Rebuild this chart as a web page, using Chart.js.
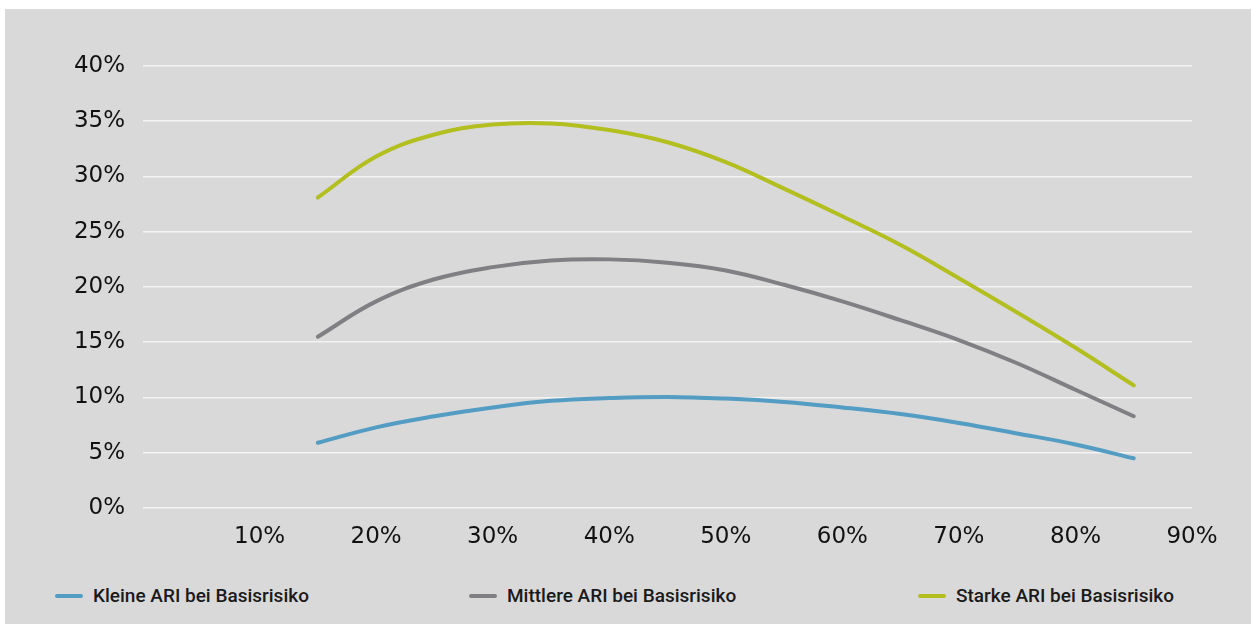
<!DOCTYPE html>
<html lang="de">
<head>
<meta charset="utf-8">
<title>ARI bei Basisrisiko</title>
<script src="https://cdn.jsdelivr.net/npm/chart.js@4/dist/chart.umd.min.js"></script>
<style>
  html, body { margin: 0; padding: 0; background: #ffffff; }
  body { width: 1252px; height: 624px; position: relative; overflow: hidden; }
  #panel { position: absolute; left: 5px; top: 9px; width: 1246px; height: 615px; background: #d9d9d9; }
  #plot { position: absolute; left: 0; top: 0; width: 1246px; height: 560px; }
  .legend-item { position: absolute; top: 575px; height: 24px; line-height: 24px;
    font-family: Roboto, "Liberation Sans", sans-serif; font-weight: 500; font-size: 19px;
    color: #1a1a1a; white-space: nowrap; }
  .legend-item .swatch { position: absolute; left: 0; top: 10px; width: 28px; height: 4px; border-radius: 2px; }
  .legend-item .label { position: absolute; left: 38px; top: 0; }
</style>
</head>
<body>
<div id="panel">
  <div id="plot"><canvas id="chart"></canvas></div>
  <div id="legend"></div>
</div>
<script>
// Anteil (x, in %) an dem die Kurven ausgewertet sind
const shares = [15, 20, 25, 30, 35, 40, 45, 50, 55, 60, 65, 70, 75, 80, 85];

// Kurvenwerte in %
const kleineARI   = [5.9, 7.3, 8.3, 9.1, 9.7, 9.95, 10.05, 9.9, 9.6, 9.1, 8.5, 7.7, 6.75, 5.75, 4.5];
const mittlereARI = [15.5, 18.7, 20.7, 21.8, 22.4, 22.5, 22.2, 21.5, 20.2, 18.7, 17.0, 15.2, 13.1, 10.7, 8.3];
const starkeARI   = [28.1, 31.8, 33.8, 34.7, 34.8, 34.2, 33.1, 31.3, 28.9, 26.4, 23.8, 20.8, 17.7, 14.5, 11.1];

const seriesNames  = ['Kleine ARI bei Basisrisiko', 'Mittlere ARI bei Basisrisiko', 'Starke ARI bei Basisrisiko'];
const seriesColors = ['#539cc3', '#7f7f84', '#b3be1f'];

// Achsenbeschriftung
const xTicks = [10, 20, 30, 40, 50, 60, 70, 80, 90];
const yTicks = [0, 5, 10, 15, 20, 25, 30, 35, 40];

const pct = v => v + '%';
const toPoints = ys => shares.map((x, i) => ({ x: x, y: ys[i] }));
const seriesValues = [kleineARI, mittlereARI, starkeARI];

const datasets = seriesValues.map((ys, i) => ({
  label: seriesNames[i],
  data: toPoints(ys),
  borderColor: seriesColors[i],
  backgroundColor: seriesColors[i],
  borderWidth: 4,
  borderCapStyle: 'round',
  borderJoinStyle: 'round',
  pointRadius: 0,
  pointHoverRadius: 0,
  tension: 0.4,
  fill: false
}));

const tickFont = { family: '"DejaVu Sans", sans-serif', size: 23 };

new Chart(document.getElementById('chart'), {
  type: 'line',
  data: { datasets: datasets },
  options: {
    responsive: true,
    maintainAspectRatio: false,
    animation: false,
    layout: { padding: { left: 0, right: 59, top: 57, bottom: 0 } },
    plugins: { legend: { display: false }, tooltip: { enabled: false } },
    scales: {
      x: {
        type: 'linear',
        min: 0,
        max: 90,
        afterBuildTicks: s => { s.ticks = xTicks.map(v => ({ value: v })); },
        afterFit: s => { s.height = 61; },
        border: { display: false },
        grid: { display: false, drawTicks: false },
        ticks: { font: tickFont, color: '#111111', padding: 15, maxRotation: 0, autoSkip: false,
                 callback: v => pct(v) }
      },
      y: {
        type: 'linear',
        min: 0,
        max: 40,
        afterBuildTicks: s => { s.ticks = yTicks.map(v => ({ value: v })); },
        afterFit: s => { s.width = 138; },
        border: { display: false },
        grid: { color: '#f4f4f4', lineWidth: 1.6, drawTicks: false },
        ticks: { font: tickFont, color: '#111111', padding: 18, callback: v => pct(v) }
      }
    }
  }
});

// Legende unter dem Diagramm
const legendX = [50, 464, 913];
const legend = document.getElementById('legend');
seriesNames.forEach((name, i) => {
  const item = document.createElement('div');
  item.className = 'legend-item';
  item.style.left = legendX[i] + 'px';
  const sw = document.createElement('span');
  sw.className = 'swatch';
  sw.style.background = seriesColors[i];
  const lb = document.createElement('span');
  lb.className = 'label';
  lb.textContent = name;
  item.appendChild(sw);
  item.appendChild(lb);
  legend.appendChild(item);
});
</script>
</body>
</html>
